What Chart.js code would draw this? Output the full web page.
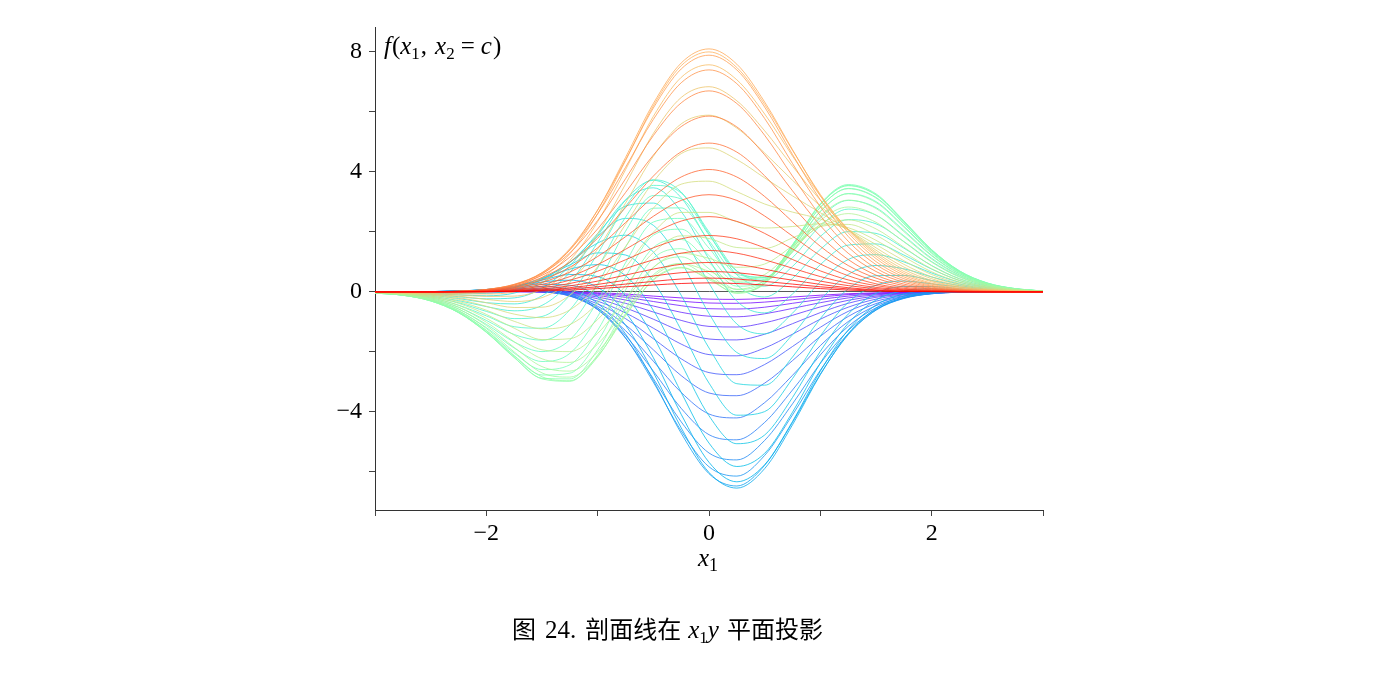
<!DOCTYPE html>
<html>
<head>
<meta charset="utf-8">
<title>剖面线在 x1y 平面投影</title>
<script src="https://cdn.jsdelivr.net/npm/chart.js@4/dist/chart.umd.min.js"></script>
<style>
  body { margin: 0; background: #fff; }
  canvas { display: block; }
</style>
</head>
<body>
<canvas id="chart" width="1400" height="680"></canvas>
<script>
// x1 sample positions shared by every profile
const x1Values = [-3, -2.75, -2.5, -2.25, -2, -1.75, -1.5, -1.25, -1, -0.75, -0.5, -0.25, 0,
  0.25, 0.5, 0.75, 1, 1.25, 1.5, 1.75, 2, 2.25, 2.5, 2.75, 3];

// level of x2 = c for each profile, -3 .. 3
const cLevels = [-3, -2.9, -2.8, -2.7, -2.6, -2.5, -2.4, -2.3, -2.2, -2.1, -2, -1.9, -1.8, -1.7, -1.6, -1.5,
  -1.4, -1.3, -1.2, -1.1, -1, -0.9, -0.8, -0.7, -0.6, -0.5, -0.4, -0.3, -0.2, -0.1, 0,
  0.1, 0.2, 0.3, 0.4, 0.5, 0.6, 0.7, 0.8, 0.9, 1, 1.1, 1.2, 1.3, 1.4, 1.5,
  1.6, 1.7, 1.8, 1.9, 2, 2.1, 2.2, 2.3, 2.4, 2.5, 2.6, 2.7, 2.8, 2.9, 3];

// f(x1, x2 = c)
const fM30 = [0, 0, 0, 0, 0, 0.01, 0, 0, -0.03, -0.07, -0.14, -0.2, -0.24, -0.25, -0.22, -0.17, -0.11, -0.06, -0.03, -0.01, 0, 0, 0, 0, 0];
const fM29 = [0, 0, 0, 0, 0.01, 0.01, 0.01, -0.01, -0.05, -0.12, -0.21, -0.31, -0.37, -0.38, -0.34, -0.26, -0.17, -0.09, -0.05, -0.02, -0.01, 0, 0, 0, 0];
const fM28 = [0, 0, 0, 0, 0.01, 0.01, 0.01, -0.02, -0.08, -0.18, -0.32, -0.46, -0.56, -0.57, -0.51, -0.38, -0.25, -0.14, -0.07, -0.03, -0.01, 0, 0, 0, 0];
const fM27 = [0, 0, 0, 0, 0.01, 0.01, 0, -0.03, -0.12, -0.27, -0.47, -0.68, -0.81, -0.83, -0.73, -0.55, -0.36, -0.2, -0.1, -0.04, -0.01, 0, 0, 0, 0];
const fM26 = [0, 0, 0, 0.01, 0.01, 0.01, 0, -0.05, -0.17, -0.38, -0.67, -0.95, -1.15, -1.17, -1.03, -0.78, -0.5, -0.28, -0.14, -0.06, -0.02, -0.01, 0, 0, 0];
const fM25 = [0, 0, 0, 0.01, 0.01, 0.02, 0, -0.07, -0.23, -0.53, -0.91, -1.31, -1.57, -1.6, -1.41, -1.06, -0.69, -0.38, -0.18, -0.08, -0.03, -0.01, 0, 0, 0];
const fM24 = [0, 0, 0, 0.01, 0.02, 0.02, 0, -0.09, -0.31, -0.7, -1.21, -1.74, -2.09, -2.13, -1.87, -1.41, -0.91, -0.51, -0.24, -0.1, -0.03, -0.01, 0, 0, 0];
const fM23 = [0, 0, 0.01, 0.01, 0.02, 0.03, 0.01, -0.11, -0.4, -0.89, -1.56, -2.23, -2.69, -2.76, -2.42, -1.82, -1.18, -0.65, -0.31, -0.13, -0.04, -0.01, 0, 0, 0];
const fM22 = [0, 0, 0.01, 0.02, 0.03, 0.04, 0.01, -0.13, -0.48, -1.1, -1.93, -2.79, -3.37, -3.46, -3.04, -2.29, -1.48, -0.82, -0.39, -0.15, -0.05, -0.01, 0, 0, 0];
const fM21 = [0, 0, 0.01, 0.02, 0.04, 0.05, 0.02, -0.14, -0.55, -1.29, -2.31, -3.35, -4.07, -4.2, -3.69, -2.78, -1.79, -0.99, -0.46, -0.18, -0.06, -0.01, 0, 0, 0];
const fM20 = [0, 0, 0.01, 0.02, 0.05, 0.07, 0.05, -0.13, -0.59, -1.45, -2.64, -3.88, -4.76, -4.93, -4.35, -3.27, -2.1, -1.15, -0.53, -0.2, -0.06, -0.01, 0, 0, 0];
const fM19 = [0, 0, 0.01, 0.03, 0.06, 0.09, 0.08, -0.09, -0.59, -1.54, -2.89, -4.33, -5.37, -5.6, -4.95, -3.73, -2.38, -1.29, -0.58, -0.22, -0.06, -0.01, 0, 0, 0];
const fM18 = [0, 0, 0.01, 0.03, 0.07, 0.11, 0.12, -0.03, -0.53, -1.53, -3.01, -4.63, -5.83, -6.14, -5.45, -4.1, -2.61, -1.39, -0.61, -0.21, -0.05, 0, 0, 0, 0];
const fM17 = [0, 0, 0.01, 0.03, 0.07, 0.14, 0.18, 0.08, -0.38, -1.4, -2.95, -4.71, -6.06, -6.47, -5.78, -4.35, -2.74, -1.43, -0.6, -0.19, -0.03, 0.01, 0.01, 0, 0];
const fM16 = [0, 0, 0.01, 0.03, 0.08, 0.17, 0.25, 0.22, -0.16, -1.11, -2.68, -4.53, -6.02, -6.54, -5.89, -4.43, -2.76, -1.4, -0.55, -0.14, 0, 0.02, 0.02, 0.01, 0];
const fM15 = [0, 0, 0.01, 0.03, 0.08, 0.18, 0.33, 0.39, 0.15, -0.68, -2.19, -4.08, -5.68, -6.33, -5.76, -4.32, -2.64, -1.27, -0.44, -0.07, 0.04, 0.05, 0.03, 0.01, 0];
const fM14 = [0, 0, 0, 0.02, 0.07, 0.19, 0.39, 0.58, 0.51, -0.12, -1.49, -3.35, -5.04, -5.82, -5.38, -4.01, -2.37, -1.05, -0.27, 0.04, 0.1, 0.08, 0.04, 0.02, 0.01];
const fM13 = [0, -0.01, -0.01, 0, 0.05, 0.18, 0.44, 0.76, 0.91, 0.54, -0.61, -2.39, -4.13, -5.06, -4.77, -3.52, -1.98, -0.74, -0.05, 0.18, 0.18, 0.11, 0.05, 0.02, 0.01];
const fM12 = [0, -0.01, -0.02, -0.03, 0.01, 0.14, 0.45, 0.9, 1.3, 1.23, 0.35, -1.27, -3.04, -4.11, -3.99, -2.89, -1.47, -0.35, 0.22, 0.36, 0.27, 0.16, 0.07, 0.03, 0.01];
const fM11 = [-0.01, -0.02, -0.04, -0.06, -0.05, 0.07, 0.41, 0.99, 1.63, 1.89, 1.33, -0.11, -1.87, -3.06, -3.11, -2.17, -0.89, 0.1, 0.54, 0.55, 0.38, 0.21, 0.09, 0.03, 0.01];
const fM10 = [-0.01, -0.02, -0.06, -0.1, -0.13, -0.04, 0.3, 0.98, 1.86, 2.45, 2.22, 1, -0.72, -2.02, -2.22, -1.43, -0.27, 0.58, 0.88, 0.77, 0.5, 0.26, 0.11, 0.04, 0.01];
const fM09 = [-0.01, -0.03, -0.08, -0.16, -0.23, -0.2, 0.12, 0.87, 1.95, 2.86, 2.96, 1.95, 0.29, -1.07, -1.4, -0.71, 0.34, 1.08, 1.24, 1, 0.63, 0.32, 0.14, 0.05, 0.02];
const fM08 = [-0.01, -0.04, -0.11, -0.22, -0.36, -0.4, -0.13, 0.65, 1.88, 3.06, 3.47, 2.68, 1.09, -0.31, -0.7, -0.07, 0.91, 1.56, 1.6, 1.23, 0.76, 0.38, 0.16, 0.06, 0.02];
const fM07 = [-0.02, -0.05, -0.14, -0.29, -0.49, -0.63, -0.45, 0.31, 1.65, 3.06, 3.72, 3.14, 1.64, 0.24, -0.17, 0.45, 1.42, 2.01, 1.95, 1.46, 0.88, 0.44, 0.19, 0.07, 0.02];
const fM06 = [-0.02, -0.07, -0.17, -0.36, -0.65, -0.89, -0.82, -0.11, 1.28, 2.85, 3.74, 3.33, 1.93, 0.57, 0.19, 0.85, 1.85, 2.41, 2.27, 1.68, 1.01, 0.51, 0.21, 0.08, 0.02];
const fM05 = [-0.03, -0.08, -0.2, -0.44, -0.8, -1.16, -1.21, -0.6, 0.8, 2.49, 3.55, 3.3, 2, 0.7, 0.39, 1.14, 2.2, 2.76, 2.56, 1.87, 1.12, 0.56, 0.24, 0.09, 0.03];
const fM04 = [-0.03, -0.09, -0.23, -0.51, -0.95, -1.42, -1.61, -1.11, 0.26, 2.02, 3.21, 3.1, 1.9, 0.69, 0.48, 1.33, 2.47, 3.05, 2.81, 2.05, 1.22, 0.61, 0.26, 0.09, 0.03];
const fM03 = [-0.03, -0.1, -0.26, -0.57, -1.08, -1.67, -1.99, -1.6, -0.3, 1.49, 2.79, 2.8, 1.7, 0.59, 0.49, 1.45, 2.68, 3.28, 3.01, 2.19, 1.31, 0.65, 0.27, 0.1, 0.03];
const fM02 = [-0.03, -0.1, -0.28, -0.63, -1.19, -1.87, -2.32, -2.05, -0.82, 0.97, 2.33, 2.45, 1.46, 0.46, 0.46, 1.53, 2.82, 3.45, 3.15, 2.29, 1.37, 0.68, 0.29, 0.1, 0.03];
const fM01 = [-0.04, -0.11, -0.29, -0.67, -1.28, -2.04, -2.59, -2.43, -1.28, 0.49, 1.89, 2.09, 1.21, 0.32, 0.42, 1.57, 2.91, 3.55, 3.24, 2.35, 1.4, 0.7, 0.29, 0.11, 0.03];
const fZ00 = [-0.04, -0.11, -0.3, -0.69, -1.33, -2.14, -2.77, -2.71, -1.65, 0.06, 1.48, 1.75, 0.98, 0.19, 0.37, 1.57, 2.94, 3.58, 3.27, 2.37, 1.41, 0.7, 0.3, 0.11, 0.03];
const fP01 = [-0.04, -0.11, -0.3, -0.69, -1.35, -2.19, -2.88, -2.9, -1.93, -0.28, 1.12, 1.44, 0.77, 0.08, 0.33, 1.55, 2.91, 3.54, 3.23, 2.34, 1.39, 0.69, 0.29, 0.11, 0.03];
const fP02 = [-0.04, -0.11, -0.3, -0.69, -1.34, -2.18, -2.9, -2.98, -2.1, -0.55, 0.81, 1.17, 0.6, 0, 0.29, 1.5, 2.82, 3.44, 3.13, 2.27, 1.35, 0.67, 0.28, 0.1, 0.03];
const fP03 = [-0.03, -0.11, -0.29, -0.66, -1.29, -2.12, -2.83, -2.96, -2.17, -0.72, 0.57, 0.95, 0.46, -0.05, 0.27, 1.43, 2.69, 3.27, 2.98, 2.16, 1.28, 0.64, 0.27, 0.1, 0.03];
const fP04 = [-0.03, -0.1, -0.27, -0.62, -1.22, -2, -2.7, -2.84, -2.14, -0.8, 0.42, 0.82, 0.41, -0.03, 0.29, 1.37, 2.53, 3.06, 2.78, 2.01, 1.2, 0.59, 0.25, 0.09, 0.03];
const fP05 = [-0.03, -0.09, -0.25, -0.57, -1.12, -1.85, -2.49, -2.64, -2, -0.76, 0.39, 0.8, 0.46, 0.09, 0.38, 1.34, 2.38, 2.83, 2.56, 1.84, 1.09, 0.54, 0.23, 0.08, 0.03];
const fP06 = [-0.03, -0.08, -0.22, -0.51, -1.01, -1.66, -2.23, -2.35, -1.74, -0.59, 0.51, 0.94, 0.69, 0.36, 0.58, 1.39, 2.25, 2.61, 2.32, 1.67, 0.99, 0.49, 0.21, 0.07, 0.02];
const fP07 = [-0.02, -0.07, -0.19, -0.45, -0.88, -1.44, -1.93, -1.99, -1.38, -0.26, 0.82, 1.29, 1.12, 0.82, 0.93, 1.53, 2.18, 2.4, 2.1, 1.49, 0.87, 0.43, 0.18, 0.07, 0.02];
const fP08 = [-0.02, -0.06, -0.17, -0.38, -0.75, -1.21, -1.59, -1.56, -0.92, 0.21, 1.31, 1.87, 1.78, 1.48, 1.45, 1.8, 2.18, 2.25, 1.89, 1.32, 0.77, 0.38, 0.16, 0.06, 0.02];
const fP09 = [-0.02, -0.05, -0.14, -0.32, -0.61, -0.98, -1.23, -1.09, -0.37, 0.81, 1.99, 2.65, 2.65, 2.34, 2.13, 2.18, 2.27, 2.14, 1.72, 1.17, 0.67, 0.33, 0.14, 0.05, 0.01];
const fP10 = [-0.01, -0.04, -0.11, -0.25, -0.48, -0.74, -0.86, -0.6, 0.23, 1.51, 2.79, 3.59, 3.69, 3.34, 2.93, 2.66, 2.43, 2.08, 1.58, 1.04, 0.58, 0.28, 0.11, 0.04, 0.01];
const fP11 = [-0.01, -0.03, -0.09, -0.19, -0.36, -0.52, -0.51, -0.11, 0.84, 2.25, 3.67, 4.61, 4.8, 4.41, 3.8, 3.2, 2.64, 2.07, 1.47, 0.92, 0.5, 0.24, 0.1, 0.03, 0.01];
const fP12 = [-0.01, -0.03, -0.07, -0.14, -0.25, -0.32, -0.19, 0.34, 1.43, 2.96, 4.52, 5.6, 5.89, 5.46, 4.63, 3.72, 2.86, 2.08, 1.39, 0.83, 0.44, 0.2, 0.08, 0.03, 0.01];
const fP13 = [-0.01, -0.02, -0.05, -0.1, -0.15, -0.14, 0.09, 0.74, 1.94, 3.59, 5.28, 6.48, 6.84, 6.37, 5.37, 4.19, 3.06, 2.09, 1.32, 0.75, 0.38, 0.17, 0.07, 0.02, 0.01];
const fP14 = [0, -0.01, -0.03, -0.06, -0.07, 0, 0.31, 1.05, 2.34, 4.07, 5.85, 7.15, 7.57, 7.07, 5.93, 4.53, 3.2, 2.09, 1.26, 0.68, 0.34, 0.15, 0.06, 0.02, 0.01];
const fP15 = [0, -0.01, -0.02, -0.03, -0.01, 0.11, 0.48, 1.27, 2.61, 4.37, 6.2, 7.54, 8, 7.48, 6.25, 4.72, 3.25, 2.05, 1.19, 0.62, 0.29, 0.12, 0.05, 0.02, 0];
const fP16 = [0, -0.01, -0.01, -0.01, 0.03, 0.18, 0.59, 1.4, 2.73, 4.48, 6.28, 7.63, 8.1, 7.59, 6.33, 4.74, 3.21, 1.97, 1.11, 0.56, 0.26, 0.1, 0.04, 0.01, 0];
const fP17 = [0, 0, 0, 0.01, 0.06, 0.23, 0.64, 1.44, 2.73, 4.4, 6.13, 7.43, 7.89, 7.4, 6.16, 4.58, 3.07, 1.85, 1.01, 0.5, 0.22, 0.09, 0.03, 0.01, 0];
const fP18 = [0, 0, 0, 0.02, 0.08, 0.25, 0.64, 1.4, 2.6, 4.15, 5.75, 6.97, 7.4, 6.94, 5.78, 4.28, 2.84, 1.69, 0.91, 0.44, 0.19, 0.07, 0.03, 0.01, 0];
const fP19 = [0, 0, 0, 0.02, 0.08, 0.25, 0.61, 1.3, 2.38, 3.77, 5.21, 6.3, 6.7, 6.28, 5.22, 3.86, 2.54, 1.5, 0.79, 0.38, 0.16, 0.06, 0.02, 0.01, 0];
const fP20 = [0, 0, 0.01, 0.02, 0.08, 0.23, 0.55, 1.16, 2.1, 3.31, 4.56, 5.51, 5.86, 5.5, 4.57, 3.37, 2.21, 1.29, 0.68, 0.32, 0.13, 0.05, 0.02, 0, 0];
const fP21 = [0, 0, 0.01, 0.02, 0.07, 0.2, 0.48, 0.99, 1.79, 2.81, 3.86, 4.67, 4.96, 4.66, 3.87, 2.85, 1.86, 1.08, 0.56, 0.26, 0.11, 0.04, 0.01, 0, 0];
const fP22 = [0, 0, 0.01, 0.02, 0.06, 0.17, 0.4, 0.82, 1.47, 2.31, 3.17, 3.83, 4.08, 3.83, 3.18, 2.34, 1.52, 0.88, 0.46, 0.21, 0.09, 0.03, 0.01, 0, 0];
const fP23 = [0, 0, 0, 0.02, 0.05, 0.14, 0.32, 0.66, 1.18, 1.84, 2.52, 3.05, 3.24, 3.05, 2.53, 1.86, 1.21, 0.7, 0.36, 0.16, 0.07, 0.02, 0.01, 0, 0];
const fP24 = [0, 0, 0, 0.01, 0.04, 0.11, 0.25, 0.51, 0.91, 1.42, 1.95, 2.36, 2.51, 2.35, 1.95, 1.43, 0.93, 0.54, 0.27, 0.12, 0.05, 0.02, 0.01, 0, 0];
const fP25 = [0, 0, 0, 0.01, 0.03, 0.08, 0.19, 0.39, 0.69, 1.07, 1.47, 1.77, 1.88, 1.77, 1.47, 1.08, 0.7, 0.4, 0.21, 0.09, 0.04, 0.01, 0, 0, 0];
const fP26 = [0, 0, 0, 0.01, 0.02, 0.06, 0.14, 0.28, 0.5, 0.78, 1.07, 1.29, 1.38, 1.29, 1.07, 0.79, 0.51, 0.29, 0.15, 0.07, 0.03, 0.01, 0, 0, 0];
const fP27 = [0, 0, 0, 0.01, 0.02, 0.04, 0.1, 0.2, 0.36, 0.56, 0.76, 0.92, 0.98, 0.92, 0.76, 0.56, 0.36, 0.21, 0.11, 0.05, 0.02, 0.01, 0, 0, 0];
const fP28 = [0, 0, 0, 0, 0.01, 0.03, 0.07, 0.14, 0.25, 0.39, 0.53, 0.64, 0.68, 0.64, 0.53, 0.39, 0.25, 0.14, 0.07, 0.03, 0.01, 0, 0, 0, 0];
const fP29 = [0, 0, 0, 0, 0.01, 0.02, 0.05, 0.1, 0.17, 0.26, 0.35, 0.43, 0.46, 0.43, 0.35, 0.26, 0.17, 0.1, 0.05, 0.02, 0.01, 0, 0, 0, 0];
const fP30 = [0, 0, 0, 0, 0.01, 0.01, 0.03, 0.06, 0.11, 0.17, 0.23, 0.28, 0.3, 0.28, 0.23, 0.17, 0.11, 0.06, 0.03, 0.01, 0.01, 0, 0, 0, 0];

const profiles = [fM30, fM29, fM28, fM27, fM26, fM25, fM24, fM23, fM22, fM21, fM20, fM19, fM18, fM17, fM16, fM15,
  fM14, fM13, fM12, fM11, fM10, fM09, fM08, fM07, fM06, fM05, fM04, fM03, fM02, fM01, fZ00,
  fP01, fP02, fP03, fP04, fP05, fP06, fP07, fP08, fP09, fP10, fP11, fP12, fP13, fP14, fP15,
  fP16, fP17, fP18, fP19, fP20, fP21, fP22, fP23, fP24, fP25, fP26, fP27, fP28, fP29, fP30];

const SERIF = '"Liberation Serif", "Times New Roman", serif';
const CJK = '"Noto Sans CJK SC", "Noto Sans CJK JP", sans-serif';

// rainbow colormap, purple -> blue -> green -> orange -> red
function rainbow (t, alpha) {
  const r = Math.min(1, Math.abs(2 * t - 0.5));
  const g = Math.sin(Math.PI * t);
  const b = Math.cos(Math.PI * t / 2);
  return 'rgba(' + Math.round(r * 255) + ',' + Math.round(g * 255) + ',' + Math.round(b * 255) + ',' + alpha + ')';
}

function fmt (v) {
  return v < 0 ? '\u2212' + Math.abs(v) : String(v);
}

// runs of text: [text, font, dy] drawn one after the other, numbers are extra gaps
function drawRun (ctx, parts, x, y) {
  parts.forEach(p => {
    if (typeof p === 'number') { x += p; return; }
    ctx.font = p[1];
    ctx.fillText(p[0], x, y + (p[2] || 0));
    x += ctx.measureText(p[0]).width;
  });
}

const datasets = profiles.map((ys, i) => ({
  label: 'c = ' + cLevels[i],
  data: x1Values.map((x, j) => ({x: x, y: ys[j]})),
  borderColor: rainbow((cLevels[i] + 3) / 6, 0.8),
  borderWidth: 1,
  pointRadius: 0,
  fill: false,
  cubicInterpolationMode: 'monotone',
  order: profiles.length - 1 - i
}));

const textPlugin = {
  id: 'texts',
  afterDraw (chart) {
    const ctx = chart.ctx;
    const it = 'italic 25px ' + SERIF, rm = '25px ' + SERIF, sb = '17px ' + SERIF;
    ctx.save();
    ctx.fillStyle = '#000';
    ctx.textBaseline = 'alphabetic';
    ctx.textAlign = 'left';
    // axis name in the corner: f(x1, x2 = c)
    drawRun(ctx, [['f', it], 1, ['(', rm], ['x', it], ['1', sb, 5], 1, [',', rm], 8,
      ['x', it], ['2', sb, 5], 6, ['=', rm], 6, ['c', it], 1, [')', rm]], 384, 54);
    // x axis name
    drawRun(ctx, [['x', 'italic 25px ' + SERIF], ['1', '18px ' + SERIF, 5]], 698, 566);
    // caption
    drawRun(ctx, [['图', '24px ' + CJK], 9, ['24.', '25px ' + SERIF], 9, ['剖面线在', '24px ' + CJK], 7,
      ['x', 'italic 25px ' + SERIF], ['1', '17px ' + SERIF, 5], ['y', 'italic 25px ' + SERIF], 8,
      ['平面投影', '24px ' + CJK]], 512, 638);
    ctx.restore();
  }
};

new Chart(document.getElementById('chart'), {
  type: 'line',
  data: { datasets: datasets },
  options: {
    responsive: false,
    animation: false,
    events: [],
    layout: { padding: { left: 305, right: 357, top: 27, bottom: 110 } },
    plugins: { legend: { display: false }, tooltip: { enabled: false } },
    scales: {
      x: {
        type: 'linear',
        min: -3,
        max: 3,
        afterFit: (scale) => { scale.height = 60; },
        ticks: {
          stepSize: 1,
          autoSkip: false,
          maxRotation: 0,
          padding: 3,
          color: '#000',
          font: { family: SERIF, size: 24 },
          callback: (v) => (v % 2 === 0 ? fmt(v) : '')
        },
        grid: { drawOnChartArea: false, tickLength: 6, tickColor: '#444' },
        border: { display: true, color: '#333', width: 1 }
      },
      y: {
        type: 'linear',
        min: -7.27,
        max: 8.83,
        afterFit: (scale) => { scale.width = 70; },
        ticks: {
          stepSize: 2,
          includeBounds: false,
          autoSkip: false,
          padding: 7,
          color: '#000',
          font: { family: SERIF, size: 24 },
          callback: (v) => (v % 4 === 0 ? fmt(v) : '')
        },
        grid: {
          tickLength: 6,
          tickColor: '#444',
          color: (ctx) => (ctx.tick && ctx.tick.value === 0 ? 'rgba(70,70,70,0.9)' : 'rgba(0,0,0,0)')
        },
        border: { display: true, color: '#333', width: 1 }
      }
    }
  },
  plugins: [textPlugin]
});
</script>
</body>
</html>
